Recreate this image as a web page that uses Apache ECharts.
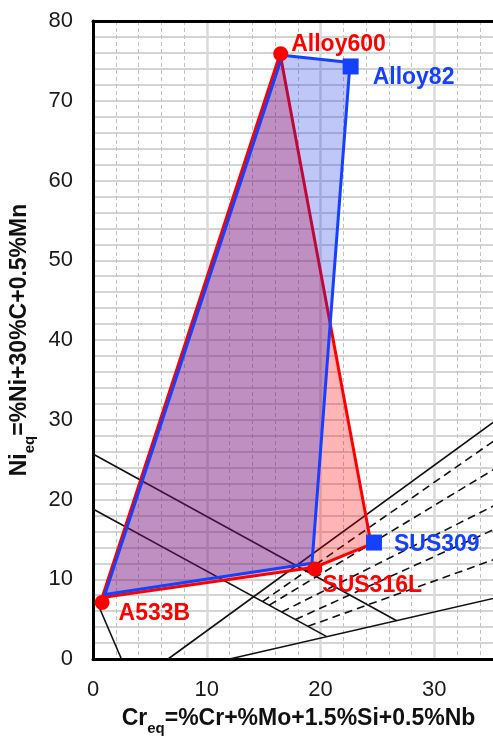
<!DOCTYPE html>
<html>
<head>
<meta charset="utf-8">
<script src="https://cdn.jsdelivr.net/npm/echarts@6/dist/echarts.min.js"></script>
<style>
  html, body { margin: 0; padding: 0; background: #ffffff; }
  #chart { width: 493px; height: 736px; }
</style>
</head>
<body>
<div id="chart"></div>
<script>
// ---- Alloy compositions (Cr_eq, Ni_eq) ----
const redPointNames = ['A533B', 'Alloy600', 'SUS316L'];
const redPointCr = [0.8, 16.5, 19.5];
const redPointNi = [7.1, 75.9, 11.3];

const bluePointNames = ['Alloy82', 'SUS309'];
const bluePointCr = [22.65, 24.7];
const bluePointNi = [74.3, 14.6];

// ---- Dilution regions (polygon vertices) ----
const redRegionCr = [0.8, 16.45, 24.45, 19.5];
const redRegionNi = [7.7, 75.9, 14.4, 11.5];
const blueRegionCr = [1.05, 16.65, 22.6, 19.25];
const blueRegionNi = [8.1, 75.7, 74.8, 12.0];

// ---- Schaeffler diagram boundaries ----
const solidLines = [
  [[0, 25.7], [26.7, 4.8]],
  [[0, 18.8], [20.55, 2.8]],
  [[12.0, 0], [35.5, 7.7]],
  [[6.6, 0], [35.5, 30.0]],
  [[0.3, 7.3], [2.5, 0]]
];
const ferriteLines = [
  [[14.9, 7.2], [35.5, 27.6]],
  [[15.5, 6.75], [35.5, 24.0]],
  [[16.6, 5.9], [35.5, 19.4]],
  [[17.8, 4.95], [35.5, 16.4]],
  [[18.9, 4.1], [35.5, 12.6]]
];

// ---- Axes ----
const xTickLabels = [0, 10, 20, 30];
const yTickLabels = [0, 10, 20, 30, 40, 50, 60, 70, 80];

const FONT = "'Liberation Sans', Arial, Helvetica, sans-serif";
const RED = '#ff0000';
const BLUE = '#1440ff';

// label placement next to each marker
const labelOffset = {
  'A533B': [4, 11],
  'Alloy600': [-2, -9],
  'SUS316L': [-5, 17],
  'Alloy82': [9, 11],
  'SUS309': [7, 2]
};

function polygonSeries(cr, ni, fill, stroke, z) {
  return {
    type: 'custom',
    coordinateSystem: 'cartesian2d',
    silent: true,
    z: z,
    data: cr.map((c, i) => [c, ni[i]]),
    renderItem: function (params, api) {
      if (params.dataIndex !== 0) return null;
      const pts = cr.map((c, i) => api.coord([c, ni[i]]));
      return {
        type: 'polygon',
        shape: { points: pts },
        style: { fill: fill, stroke: stroke, lineWidth: 3, lineJoin: 'round' }
      };
    }
  };
}

function lineSeries(pts, dashed) {
  return {
    type: 'line',
    data: pts,
    silent: true,
    showSymbol: false,
    symbol: 'none',
    z: 2,
    lineStyle: { color: '#111111', width: 1.6, type: dashed ? [8, 5] : 'solid' }
  };
}

function pointSeries(names, cr, ni, symbol, size, color) {
  return {
    type: 'scatter',
    z: 6,
    symbol: symbol,
    symbolSize: size,
    itemStyle: { color: color, opacity: 1 },
    data: names.map((n, i) => ({
      value: [cr[i], ni[i]],
      name: n,
      label: { offset: labelOffset[n] }
    })),
    label: {
      show: true,
      position: 'right',
      formatter: p => p.name,
      color: color,
      fontFamily: FONT,
      fontWeight: 'bold',
      fontSize: 23
    }
  };
}

const nameRich = {
  m: { fontFamily: FONT, fontWeight: 'bold', fontSize: 23, color: '#111', lineHeight: 26, verticalAlign: 'top' },
  s: { fontFamily: FONT, fontWeight: 'bold', fontSize: 15, color: '#111', lineHeight: 15, padding: [14, 0, 0, 0], verticalAlign: 'top' }
};

const series = [];
solidLines.forEach(l => series.push(lineSeries(l, false)));
ferriteLines.forEach(l => series.push(lineSeries(l, true)));
series.push(polygonSeries(redRegionCr, redRegionNi, 'rgba(255,0,0,0.29)', RED, 3));
series.push(polygonSeries(blueRegionCr, blueRegionNi, 'rgba(0,30,230,0.25)', BLUE, 4));
series.push(pointSeries(redPointNames, redPointCr, redPointNi, 'circle', 15, RED));
series.push(pointSeries(bluePointNames, bluePointCr, bluePointNi, 'rect', 16, BLUE));

const chart = echarts.init(document.getElementById('chart'), null, { renderer: 'canvas' });
chart.setOption({
  animation: false,
  backgroundColor: '#ffffff',
  // the plot area runs past the right edge of the page (x up to 40)
  grid: { left: 93, top: 21, width: 455, height: 638, containLabel: false, outerBoundsMode: 'none' },
  xAxis: [
    {
      type: 'value', min: 0, max: 40, interval: 10,
      name: '{m|Cr}{s|eq}{m|=%Cr+%Mo+1.5%Si+0.5%Nb}',
      nameLocation: 'middle', nameGap: 48,
      nameTextStyle: { rich: nameRich, padding: [0, 44, 0, 0] },
      axisLine: { show: true, onZero: false, lineStyle: { color: '#000', width: 3 } },
      axisTick: { show: false },
      axisLabel: {
        fontFamily: FONT, fontSize: 22, color: '#1a1a1a', margin: 20,
        formatter: v => (xTickLabels.indexOf(v) >= 0 ? String(v) : '')
      },
      splitLine: { show: true, lineStyle: { color: '#dadada', width: 2.5 } },
      minorTick: { show: false, splitNumber: 5 },
      minorSplitLine: { show: true, lineStyle: { color: '#c2c2c2', width: 1, type: [4, 3] } }
    },
    {
      type: 'value', min: 0, max: 40, position: 'top',
      axisLine: { show: true, onZero: false, lineStyle: { color: '#000', width: 3 } },
      axisTick: { show: false }, axisLabel: { show: false }, splitLine: { show: false }
    }
  ],
  yAxis: {
    type: 'value', min: 0, max: 80, interval: 10,
    name: '{m|Ni}{s|eq}{m|=%Ni+30%C+0.5%Mn}',
    nameLocation: 'middle', nameGap: 43, nameRotate: 90,
    nameTextStyle: { rich: nameRich },
    axisLine: { show: true, onZero: false, lineStyle: { color: '#000', width: 3 } },
    axisTick: { show: false },
    axisLabel: {
      fontFamily: FONT, fontSize: 22, color: '#1a1a1a', margin: 20,
      formatter: v => (yTickLabels.indexOf(v) >= 0 ? String(v) : '')
    },
    splitLine: { show: true, lineStyle: { color: '#d4d4d4', width: 2 } },
    minorTick: { show: false, splitNumber: 5 },
    minorSplitLine: { show: true, lineStyle: { color: '#d4d4d4', width: 2 } }
  },
  series: series
});
</script>
</body>
</html>
